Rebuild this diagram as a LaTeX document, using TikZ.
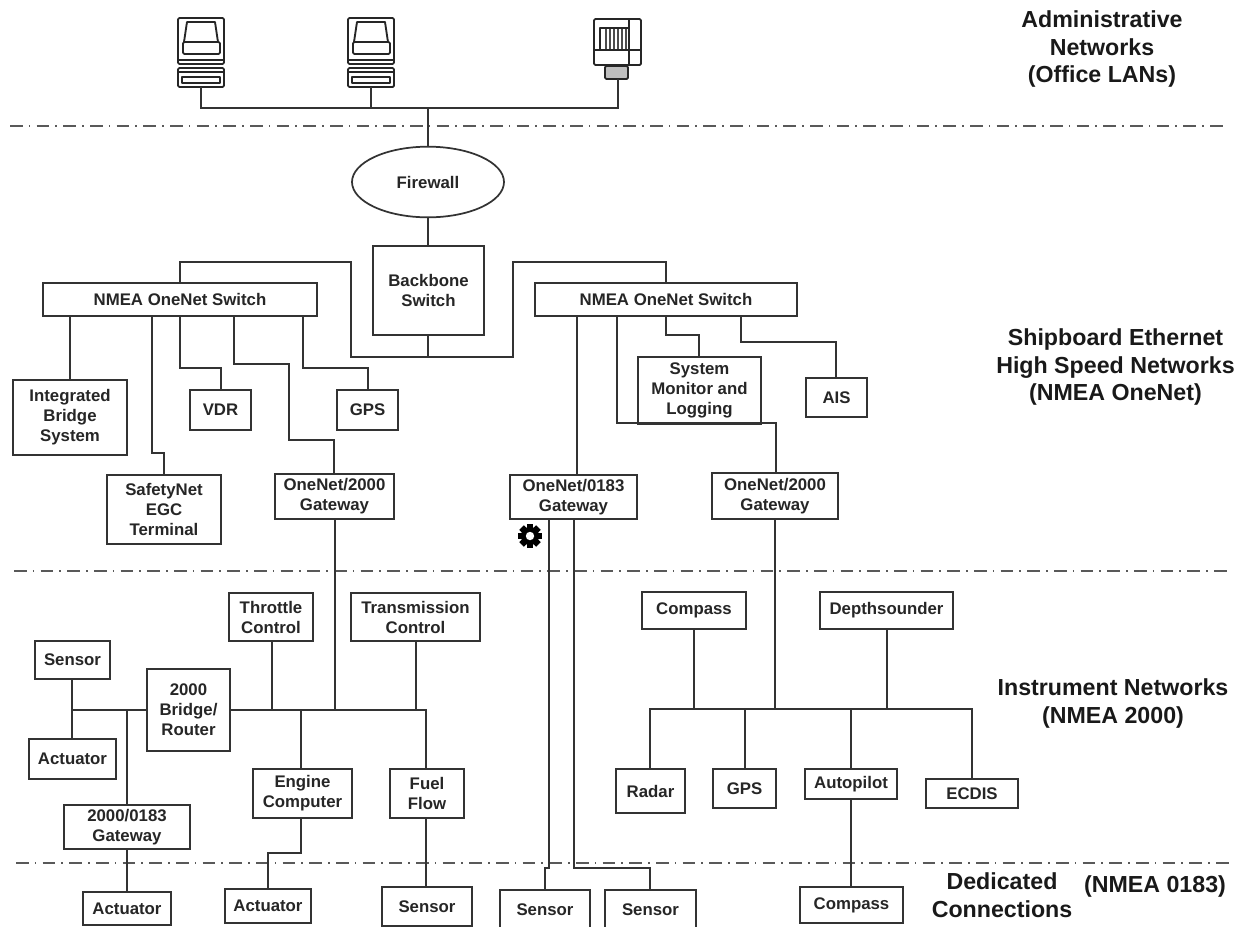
\documentclass[tikz,border=0pt]{standalone}
\usepackage{fontspec}
\setmainfont{Liberation Sans}
\usetikzlibrary{shapes.geometric}
\tikzset{
  conn/.style={draw=black!80,line width=1.3pt,line join=miter},
  sep/.style={draw=black!65,line width=1.5pt,dash pattern=on 9.5pt off 4.6pt on 1.2pt off 4.7pt},
  lbl/.style={font=\bfseries\fontsize{12.6}{15}\selectfont,text=black!85,align=center,inner sep=0pt},
  big/.style={font=\bfseries\fontsize{17.4}{20.6}\selectfont,text=black!90,align=center,inner sep=0pt},
  icon/.style={draw=black!85,line width=1.4pt,line join=round},
}
% name, x1, y1, x2, y2, text
\newcommand{\bx}[6]{%
  \path[conn,fill=white] (#2,#3) rectangle (#4,#5);
  \node[lbl] (#1) at ({(#2+#4)/2},{(#3+#5)/2}) {#6};}
\newcommand{\pcicon}[3]{%
  \begin{scope}[shift={(#2,#3)}]
    \draw[icon,rounded corners=1pt] (-23,-69) rectangle (23,-23);
    \draw[icon] (-14,-65) -- (14,-65) -- (17,-45) -- (-17,-45) -- cycle;
    \draw[icon,rounded corners=1pt] (-18,-45) rectangle (19,-33);
    \draw[icon,line width=2.2pt] (-22,-27) -- (22,-27);
    \draw[icon,rounded corners=1pt] (-23,-19) rectangle (23,0);
    \draw[icon] (-23,-15) -- (23,-15);
    \draw[icon] (-19,-10) rectangle (19,-4);
    \coordinate (#1) at (0,0);
  \end{scope}}
\begin{document}
\begin{tikzpicture}[x=0.75pt,y=-0.75pt]
\useasboundingbox (0,0) rectangle (1245,926);
\clip (0,0) rectangle (1245,926);
% separators
\coordinate (s1l) at (10,126); \coordinate (s1r) at (1226,126);
\coordinate (s2l) at (14,571); \coordinate (s2r) at (1230,571);
\coordinate (s3l) at (16,863); \coordinate (s3r) at (1230,863);
\draw[sep] (s1l) -- (s1r);
\draw[sep] (s2l) -- (s2r);
\draw[sep] (s3l) -- (s3r);
% computers
\pcicon{pca}{201}{87}
\pcicon{pcb}{371}{87}
\begin{scope}[shift={(618,79)}]
  \draw[icon,rounded corners=1pt] (-24,-60) rectangle (23,-14);
  \draw[icon] (-18,-51) rectangle (11,-29);
  \foreach \i in {-12,-8,-4,0,4,8} \draw[draw=black!70,line width=1.1pt] (\i,-50) -- (\i,-30);
  \draw[icon] (-24,-29) -- (23,-29);
  \draw[icon] (11,-60) -- (11,-14);
  \draw[icon,fill=black!25,rounded corners=1pt] (-13,-13) rectangle (10,0);
  \coordinate (prt) at (0,0);
\end{scope}
% connectors
\coordinate (topbus) at (428,108);
\node[conn,ellipse,fill=white,minimum width=114pt,minimum height=53pt,lbl] (fw) at (428,182) {Firewall};
\draw[conn] (pca) |- (topbus) -| (prt);
\draw[conn] (pcb) -- (pcb |- topbus);
\draw[conn] (topbus) -- (fw.north);
\bx{bb}{373}{246}{484}{335}{Backbone\\Switch}
\draw[conn] (fw.south) -- (fw.south |- 0,246);
\bx{swl}{43}{283}{317}{316}{NMEA OneNet Switch}
\bx{swr}{535}{283}{797}{316}{NMEA OneNet Switch}
\coordinate (bbb) at (428,335);
\coordinate (bbus) at (428,357);
\draw[conn] (bbb) -- (bbus);
\coordinate (swlt) at (180,283);
\coordinate (swrt) at (666,283);
\draw[conn] (swlt) -- (180,262) -- (351,262) -- (351,357) -- (513,357) -- (513,262) -- (666,262) -- (swrt);
\bx{ibs}{13}{380}{127}{455}{Integrated\\Bridge\\System}
\bx{vdr}{190}{390}{251}{430}{VDR}
\bx{gpsa}{337}{390}{398}{430}{GPS}
\bx{safe}{107}{475}{221}{544}{SafetyNet\\EGC\\Terminal}
\bx{gwa}{275}{474}{394}{519}{OneNet/2000\\Gateway}
\bx{mon}{638}{357}{761}{424}{System\\Monitor and\\Logging}
\bx{ais}{806}{378}{867}{417}{AIS}
\bx{gwb}{510}{475}{637}{519}{OneNet/0183\\Gateway}
\bx{gwc}{712}{473}{838}{519}{OneNet/2000\\Gateway}
\draw[conn] (70,316) -- (70,380);
\draw[conn] (152,316) -- (152,453) -- (164,453) -- (164,475);
\draw[conn] (180,316) -- (180,368) -- (221,368) -- (221,390);
\draw[conn] (234,316) -- (234,364) -- (289,364) -- (289,440) -- (334,440) -- (334,474);
\draw[conn] (303,316) -- (303,368) -- (368,368) -- (368,390);
\draw[conn] (577,316) -- (577,475);
\draw[conn] (617,316) -- (617,423) -- (776,423) -- (776,473);
\draw[conn] (666,316) -- (666,335) -- (699,335) -- (699,357);
\draw[conn] (741,316) -- (741,342) -- (836,342) -- (836,378);
% gear
\begin{scope}[shift={(530,536)}]
  \foreach \a in {0,45,...,315}
    \fill[black,rotate=\a] (-3.2,-12) rectangle (3.2,0);
  \fill[black] (0,0) circle[radius=9];
  \fill[white] (0,0) circle[radius=4.2];
\end{scope}
% instrument network left
\bx{thr}{229}{593}{313}{641}{Throttle\\Control}
\bx{tra}{351}{593}{480}{641}{Transmission\\Control}
\bx{sna}{35}{641}{110}{679}{Sensor}
\bx{aca}{29}{739}{116}{779}{Actuator}
\bx{brg}{147}{669}{230}{751}{2000\\Bridge/\\Router}
\bx{eng}{253}{769}{352}{818}{Engine\\Computer}
\bx{fue}{390}{769}{464}{818}{Fuel\\Flow}
\bx{gwd}{64}{805}{190}{849}{2000/0183\\Gateway}
\draw[conn] (335,519) -- (335,710);
\draw[conn,line width=2.2pt] (72,710) -- (147,710);
\draw[conn] (230,710) -- (426,710) -- (426,769);
\draw[conn] (272,641) -- (272,710);
\draw[conn] (416,641) -- (416,710);
\draw[conn] (72,679) -- (72,739);
\draw[conn] (127,710) -- (127,805);
\draw[conn] (301,710) -- (301,769);
% right network
\bx{cma}{642}{592}{746}{629}{Compass}
\bx{dep}{820}{592}{953}{629}{Depthsounder}
\bx{rad}{616}{769}{685}{813}{Radar}
\bx{gpsb}{713}{769}{776}{808}{GPS}
\bx{aut}{805}{769}{897}{799}{Autopilot}
\bx{ecd}{926}{779}{1018}{808}{ECDIS}
\draw[conn] (775,519) -- (775,709);
\draw[conn] (650,769) -- (650,709) -- (972,709) -- (972,779);
\draw[conn] (694,629) -- (694,709);
\draw[conn] (887,629) -- (887,709);
\draw[conn] (745,709) -- (745,769);
\draw[conn] (851,709) -- (851,769);
% bottom row
\bx{acb}{83}{892}{171}{925}{Actuator}
\bx{acc}{225}{889}{311}{923}{Actuator}
\bx{snb}{382}{887}{472}{926}{Sensor}
\bx{snc}{500}{890}{590}{929}{Sensor}
\bx{snd}{605}{890}{696}{929}{Sensor}
\bx{cmb}{800}{887}{903}{923}{Compass}
\draw[conn] (127,849) -- (127,892);
\draw[conn] (301,818) -- (301,853) -- (268,853) -- (268,889);
\draw[conn] (426,818) -- (426,887);
\draw[conn] (549,519) -- (549,868) -- (545,868) -- (545,890);
\draw[conn] (574,519) -- (574,868) -- (650,868) -- (650,890);
\draw[conn] (851,799) -- (851,887);
% section labels
\node[big] (l1) at (1102,49) {Administrative\\Networks\\(Office LANs)};
\node[big] (l2) at (1115.5,367) {Shipboard Ethernet\\High Speed Networks\\(NMEA OneNet)};
\node[big] (l3) at (1113,703.5) {Instrument Networks\\(NMEA 2000)};
\node[big] (l4) at (1002,895) {Dedicated\\Connections};
\node[big] (l5) at (1155,886) {(NMEA 0183)};
\end{tikzpicture}
\end{document}
